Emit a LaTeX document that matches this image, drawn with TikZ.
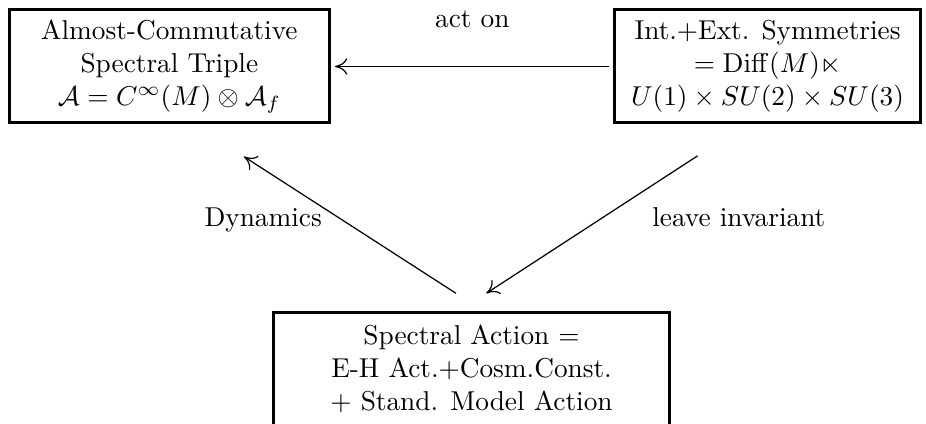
\documentclass[tikz,border=0pt]{standalone}
\usepackage{amssymb,amsmath}
\usepackage{tikz}
\usetikzlibrary{positioning,arrows.meta}

\tikzset{
	framebox/.style={draw, line width=1.1pt, align=center, inner sep=0pt, minimum height=1.455cm, outer sep=0.55pt},
	actarrow/.style={-{To[length=4.5pt,width=6pt]}, line width=0.45pt}
}

\begin{document}
\begin{tikzpicture}
		\useasboundingbox (0,0) rectangle (11.92,5.446);
		
		\node[framebox, minimum width=4.12cm] (triple) at (2.18,4.59)
		{Almost-Commutative\\ Spectral Triple\\ $\mathcal{A}=C^\infty(M)\otimes\mathcal{A}_f$};
		
		\node[framebox, minimum width=3.94cm] (sym) at (9.88,4.59)
		{Int.$+$Ext. Symmetries\\ $=\mathrm{Diff}(M)\ltimes$\\ $U(1)\times SU(2)\times SU(3)$};
		
		\node[framebox, minimum width=5.09cm] (action) at (6.07,0.70)
		{Spectral Action $=$\\ E-H Act.$+$Cosm.Const.\\ $+$ Stand. Model Action};
		
		%%% free ends of the slanted arrows
		\coordinate (dynTail) at (5.87,1.67);
		\coordinate (dynTip) at (3.14,3.43);
		\coordinate (invTail) at (8.98,3.44);
		\coordinate (invTip) at (6.26,1.67);
		
		\draw[actarrow, shorten >=1.5pt, shorten <=1.5pt] (sym.west) -- (triple.east);
		\draw[actarrow] (dynTail) -- (dynTip);
		\draw[actarrow] (invTail) -- (invTip);
		
		\node[anchor=base] (acton) at (6.08,5.09) {act on};
		\node[anchor=base east, inner sep=0pt] (dyn) at (4.15,2.53) {Dynamics};
		\node[anchor=base west, inner sep=0pt] (inv) at (8.39,2.53) {leave invariant};
	\end{tikzpicture}
\end{document}
